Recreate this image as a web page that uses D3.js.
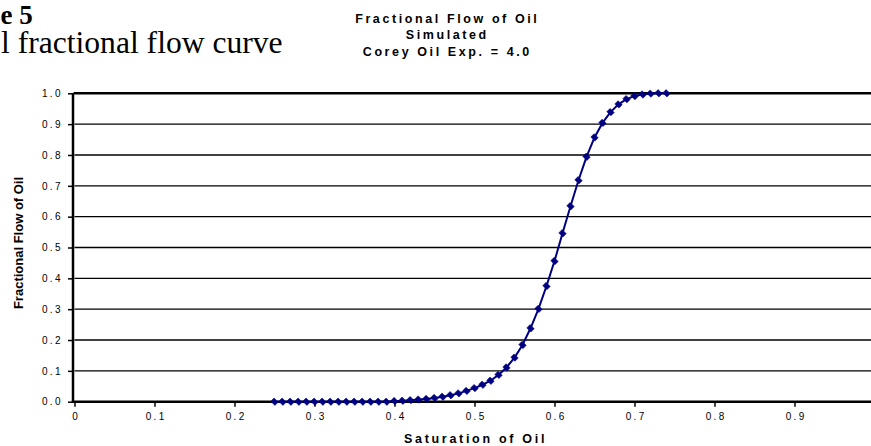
<!DOCTYPE html>
<html>
<head>
<meta charset="utf-8">
<script src="https://cdn.jsdelivr.net/npm/d3@7"></script>
<style>
  html, body { margin: 0; padding: 0; background: #fff; overflow: hidden; }
  svg { display: block; }
</style>
</head>
<body>
<script>
// ---- data ----
const saturation = [0.25,0.26,0.27,0.28,0.29,0.30,0.31,0.32,0.33,0.34,0.35,0.36,0.37,0.38,0.39,
  0.40,0.41,0.42,0.43,0.44,0.45,0.46,0.47,0.48,0.49,0.50,0.51,0.52,0.53,0.54,0.55,0.56,0.57,0.58,0.59,
  0.60,0.61,0.62,0.63,0.64,0.65,0.66,0.67,0.68,0.69,0.70,0.71,0.72,0.73,0.74];
const fractionalFlow = [0,0,0,0,0,0,0,0,0,0,0,0,0,0,0,
  0.002,0.003,0.005,0.007,0.009,0.012,0.016,0.021,0.027,0.035,0.044,0.055,0.068,0.087,0.111,0.143,0.184,0.238,0.301,0.375,
  0.456,0.546,0.634,0.718,0.794,0.857,0.904,0.939,0.964,0.981,0.991,0.996,0.999,1.0,1.0];
const xTicks = [0,0.1,0.2,0.3,0.4,0.5,0.6,0.7,0.8,0.9];
const xTickLabels = ["0","0.1","0.2","0.3","0.4","0.5","0.6","0.7","0.8","0.9"];
const yTicks = [0,0.1,0.2,0.3,0.4,0.5,0.6,0.7,0.8,0.9,1.0];
const yTickLabels = ["0.0","0.1","0.2","0.3","0.4","0.5","0.6","0.7","0.8","0.9","1.0"];
const titleLines = ["Fractional Flow of Oil","Simulated","Corey Oil Exp. = 4.0"];
const xTitle = "Saturation of Oil";
const yTitle = "Fractional Flow of Oil";
const captionLines = ["e 5","l fractional flow curve"];

const W = 871, H = 446;
const svg = d3.select("body").append("svg").attr("width", W).attr("height", H);

const x = d3.scaleLinear().domain([0, 1]).range([74.5, 874.5]);
const y = d3.scaleLinear().domain([0, 1]).range([401.7, 93.3]);

const sans = "Arial, 'Liberation Sans', Helvetica, sans-serif";
const serif = "'Times New Roman', 'Liberation Serif', serif";

// caption (cropped figure heading)
svg.append("text").attr("x", 0.5).attr("y", 24)
  .attr("font-family", serif).attr("font-weight", "bold").attr("font-size", 27)
  .attr("fill", "#000").text(captionLines[0]);
svg.append("text").attr("x", 1).attr("y", 53.3)
  .attr("font-family", serif).attr("font-size", 31.6)
  .attr("fill", "#000").text(captionLines[1]);

// title
const titleY = [22.5, 38.5, 55.5];
titleLines.forEach((t, i) => {
  svg.append("text").attr("x", 447.3).attr("y", titleY[i]).attr("text-anchor", "middle")
    .attr("font-family", sans).attr("font-weight", "bold").attr("font-size", 12.5)
    .attr("letter-spacing", 2.6).attr("fill", "#000").text(t);
});

// gridlines
svg.append("g").selectAll("line").data(yTicks.filter(v => v > 0 && v < 1)).join("line")
  .attr("x1", x(0)).attr("x2", W).attr("y1", d => y(d)).attr("y2", d => y(d))
  .attr("stroke", "#000").attr("stroke-width", 1.3);
// top border of plot area
svg.append("line").attr("x1", x(0) - 1).attr("x2", W).attr("y1", y(1)).attr("y2", y(1))
  .attr("stroke", "#000").attr("stroke-width", 2.5);

// y axis
const yAxis = d3.axisLeft(y).tickValues(yTicks).tickSize(5).tickPadding(5)
  .tickFormat((d, i) => yTickLabels[i]);
const gy = svg.append("g").attr("transform", `translate(${x(0) - 1.5},0)`).call(yAxis);
gy.select(".domain").remove();
gy.append("line").attr("x1", 0).attr("x2", 0).attr("y1", y(1)).attr("y2", y(0) + 1)
  .attr("stroke", "#000").attr("stroke-width", 2.5);
gy.selectAll(".tick line").attr("stroke", "#000").attr("stroke-width", 1.5);
gy.selectAll(".tick text").attr("font-family", sans).attr("font-size", 10)
  .attr("letter-spacing", 2.4).attr("fill", "#000");

// x axis
const xAxis = d3.axisBottom(x).tickValues(xTicks).tickSize(5).tickPadding(6)
  .tickFormat((d, i) => xTickLabels[i]);
const gx = svg.append("g").attr("transform", `translate(0,${y(0)})`).call(xAxis);
gx.select(".domain").remove();
gx.append("line").attr("x1", x(0) - 2.7).attr("x2", W).attr("y1", 0).attr("y2", 0)
  .attr("stroke", "#000").attr("stroke-width", 2.5);
gx.selectAll(".tick line").attr("stroke", "#000").attr("stroke-width", 1.5);
gx.selectAll(".tick text").attr("font-family", sans).attr("font-size", 10)
  .attr("letter-spacing", 2.4).attr("dx", 1.2).attr("fill", "#000");

// axis titles
svg.append("text").attr("x", 475.5).attr("y", 443).attr("text-anchor", "middle")
  .attr("font-family", sans).attr("font-weight", "bold").attr("font-size", 12.5)
  .attr("letter-spacing", 2.7).attr("fill", "#000").text(xTitle);
svg.append("text").attr("transform", "translate(22.5,243) rotate(-90)")
  .attr("text-anchor", "middle")
  .attr("font-family", sans).attr("font-weight", "bold").attr("font-size", 13)
  .attr("fill", "#000").text(yTitle);

// series
const pts = saturation.map((s, i) => [s, fractionalFlow[i]]);
const navy = "#000080";
svg.append("path").datum(pts)
  .attr("d", d3.line().x(d => x(d[0])).y(d => y(d[1])))
  .attr("fill", "none").attr("stroke", navy).attr("stroke-width", 2);
const diamond = d3.symbol().type(d3.symbolSquare).size(34);
svg.append("g").selectAll("path").data(pts).join("path")
  .attr("d", diamond)
  .attr("transform", d => `translate(${x(d[0])},${y(d[1])}) rotate(45) scale(1,0.8)`)
  .attr("fill", navy).attr("stroke", navy).attr("stroke-width", 0.6);
</script>
</body>
</html>
